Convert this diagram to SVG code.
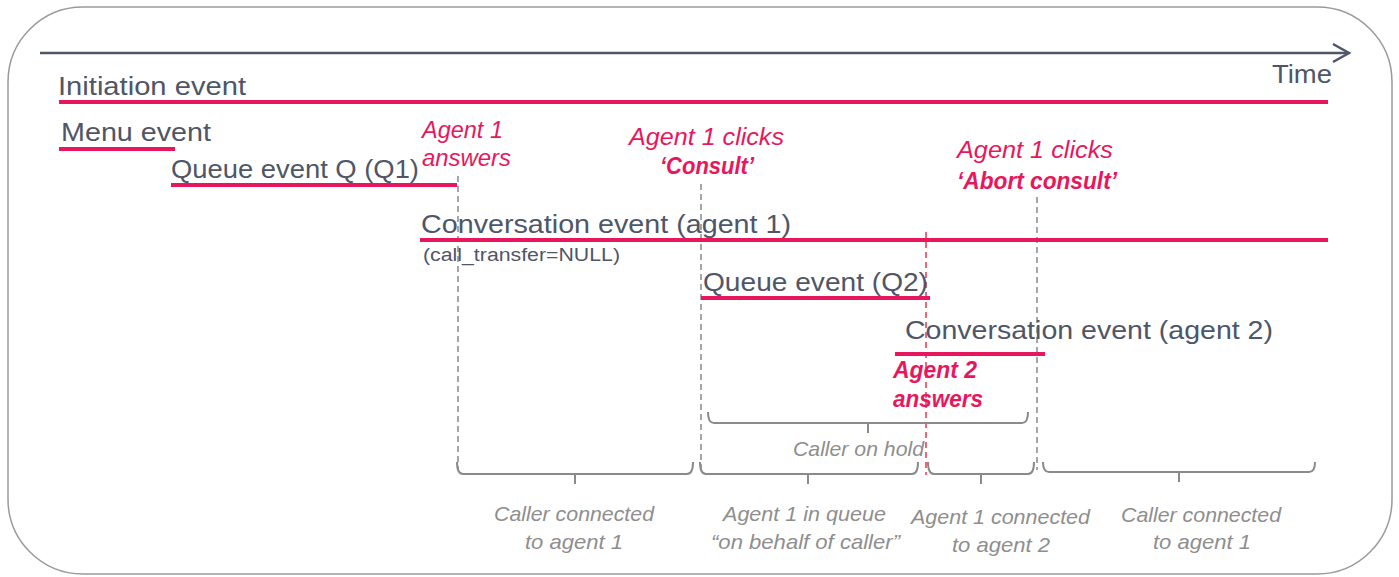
<svg xmlns="http://www.w3.org/2000/svg" width="1399" height="577" viewBox="0 0 1399 577">
<style>
text{font-family:"Liberation Sans",Arial,sans-serif}
.t{fill:#4f5667;font-size:25px}
.s{fill:#4f5667;font-size:18px}
.r{fill:#e8175d;font-size:23px;font-style:italic}
.rb{fill:#e8175d;font-size:23px;font-style:italic;font-weight:bold}
.g{fill:#8e8e8e;font-size:21px;font-style:italic}
.ev{stroke:#e8175d;stroke-width:4;fill:none}
.dash{stroke:#777;stroke-width:1.3;stroke-dasharray:6,4;fill:none}
.rdash{stroke:#ee3344;stroke-width:1.5;stroke-dasharray:6,4;fill:none}
.br{stroke:#8a8a8a;stroke-width:2;fill:none}
</style>
<rect x="8" y="7" width="1384" height="567" rx="75" ry="75" fill="#fff" stroke="#9a9a9a" stroke-width="1.5"/>
<g id="axis">
<line x1="40" y1="53" x2="1349" y2="53" stroke="#4f5667" stroke-width="2.5"/>
<polyline points="1333,44 1349,53 1333,62" stroke="#4f5667" stroke-width="2.5" fill="none"/>
<text class="t" x="1272" y="83" font-size="24" textLength="60" lengthAdjust="spacingAndGlyphs">Time</text>
</g>
<g id="connectors">
<line class="dash" x1="458" y1="176" x2="458" y2="470"/>
<line class="dash" x1="701" y1="184" x2="701" y2="472"/>
<line class="dash" x1="1037" y1="197" x2="1037" y2="470"/>
<line class="rdash" x1="926" y1="232" x2="926" y2="475"/>
</g>
<g id="initiation">
<text class="t" x="58" y="95" textLength="188" lengthAdjust="spacingAndGlyphs">Initiation event</text>
<line class="ev" x1="59" y1="102" x2="1328" y2="102"/>
</g>
<g id="menu">
<text class="t" x="61" y="141" textLength="150" lengthAdjust="spacingAndGlyphs">Menu event</text>
<line class="ev" x1="59" y1="149" x2="175" y2="149"/>
</g>
<g id="queue1">
<text class="t" x="171" y="178" textLength="248" lengthAdjust="spacingAndGlyphs">Queue event Q (Q1)</text>
<line class="ev" x1="171" y1="185" x2="457" y2="185"/>
</g>
<g id="agent1answers">
<text class="r" x="422" y="138" textLength="81" lengthAdjust="spacingAndGlyphs">Agent 1</text>
<text class="r" x="422" y="166" textLength="89" lengthAdjust="spacingAndGlyphs">answers</text>
</g>
<g id="conv1">
<text class="t" x="421" y="233" textLength="370" lengthAdjust="spacingAndGlyphs">Conversation event (agent 1)</text>
<line class="ev" x1="420" y1="240" x2="1328" y2="240"/>
<text class="s" x="423" y="261" textLength="197" lengthAdjust="spacingAndGlyphs">(call_transfer=NULL)</text>
</g>
<g id="consult">
<text class="r" x="629" y="145" textLength="155" lengthAdjust="spacingAndGlyphs">Agent 1 clicks</text>
<text class="rb" x="660" y="174" textLength="94" lengthAdjust="spacingAndGlyphs">‘Consult’</text>
</g>
<g id="queue2">
<text class="t" x="703" y="291" textLength="225" lengthAdjust="spacingAndGlyphs">Queue event (Q2)</text>
<line class="ev" x1="701" y1="298" x2="930" y2="298"/>
</g>
<g id="abort">
<text class="r" x="957" y="158" textLength="156" lengthAdjust="spacingAndGlyphs">Agent 1 clicks</text>
<text class="rb" x="957" y="189" textLength="160" lengthAdjust="spacingAndGlyphs">‘Abort consult’</text>
</g>
<g id="conv2">
<text class="t" x="905" y="339" textLength="368" lengthAdjust="spacingAndGlyphs">Conversation event (agent 2)</text>
<line class="ev" x1="895" y1="354" x2="1045" y2="354"/>
</g>
<g id="agent2answers">
<text class="rb" x="893" y="378" textLength="84" lengthAdjust="spacingAndGlyphs">Agent 2</text>
<text class="rb" x="893" y="407" textLength="90" lengthAdjust="spacingAndGlyphs">answers</text>
</g>
<g id="hold">
<path class="br" d="M708,412 Q708,423 714,423 L1022,423 Q1028,423 1028,412 M868,423 L868,433"/>
<text class="g" x="793" y="456" textLength="131" lengthAdjust="spacingAndGlyphs">Caller on hold</text>
</g>
<g id="span1">
<path class="br" d="M457,462 Q457,474 463,474 L687,474 Q693,474 693,462 M575,474 L575,484"/>
<text class="g" x="494" y="521" textLength="160" lengthAdjust="spacingAndGlyphs">Caller connected</text>
<text class="g" x="525" y="549" textLength="98" lengthAdjust="spacingAndGlyphs">to agent 1</text>
</g>
<g id="span2">
<path class="br" d="M700,462 Q700,474 706,474 L912,474 Q918,474 918,462 M808,474 L808,484"/>
<text class="g" x="723" y="521" textLength="163" lengthAdjust="spacingAndGlyphs">Agent 1 in queue</text>
<text class="g" x="711" y="549" textLength="189" lengthAdjust="spacingAndGlyphs">“on behalf of caller”</text>
</g>
<g id="span3">
<path class="br" d="M928,462 Q928,474 934,474 L1028,474 Q1034,474 1034,462 M981,474 L981,484"/>
<text class="g" x="911" y="524" textLength="179" lengthAdjust="spacingAndGlyphs">Agent 1 connected</text>
<text class="g" x="952" y="552" textLength="98" lengthAdjust="spacingAndGlyphs">to agent 2</text>
</g>
<g id="span4">
<path class="br" d="M1043,462 Q1043,472 1049,472 L1309,472 Q1315,472 1315,462 M1179,472 L1179,482"/>
<text class="g" x="1121" y="522" textLength="160" lengthAdjust="spacingAndGlyphs">Caller connected</text>
<text class="g" x="1153" y="549" textLength="98" lengthAdjust="spacingAndGlyphs">to agent 1</text>
</g>
</svg>
